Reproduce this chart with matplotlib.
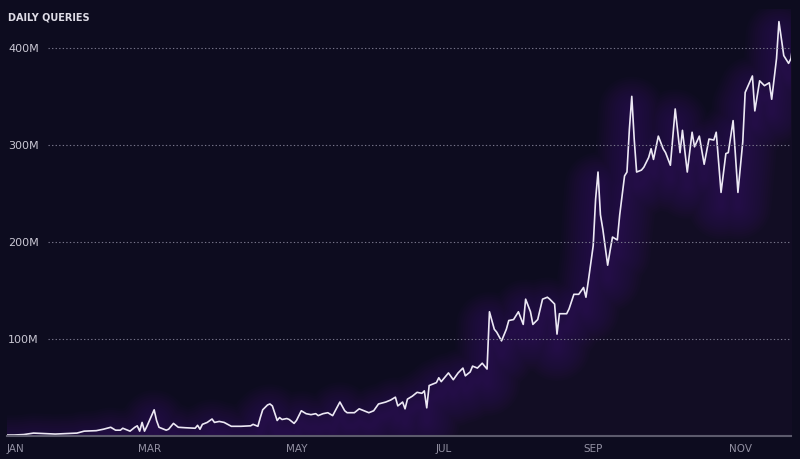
import numpy as np
import matplotlib.pyplot as plt

# dias desde 1 de janeiro e consultas diarias (milhoes)
dias = [0, 3, 7, 11, 16, 20, 25, 29, 32, 37, 40, 43, 45, 47, 48, 51, 53, 54, 55, 56,
        57, 58, 61, 62, 63, 66, 67, 69, 71, 74, 78, 79, 80, 81, 83, 85, 86, 88, 90, 93,
        97, 101, 102, 104, 105, 106, 108, 109, 110, 112, 113, 114, 116, 117, 119, 120, 122, 124, 126, 128,
        129, 131, 133, 135, 138, 140, 141, 144, 146, 148, 150, 152, 154, 157, 159, 161, 162, 164, 165, 166,
        168, 170, 172, 173, 174, 175, 178, 179, 180, 183, 185, 187, 189, 190, 192, 193, 195, 197, 199, 200,
        202, 203, 205, 207, 208, 210, 212, 214, 215, 217, 218, 220, 222, 224, 225, 227, 228, 229, 232, 233,
        235, 237, 239, 240, 241, 243, 244, 245, 246, 247, 249, 250, 251, 253, 254, 256, 257, 258, 259, 260,
        261, 263, 264, 266, 267, 268, 270, 272, 273, 275, 277, 279, 280, 282, 284, 285, 287, 289, 291, 293,
        294, 296, 298, 299, 301, 303, 305, 306, 309, 310, 312, 314, 316, 317, 319, 320, 322, 324, 325, 326]
consultas = [1, 1, 1.5, 3, 2.5, 2, 2.5, 3, 5, 5.5, 7, 9, 6, 6, 8, 5, 9, 10.5, 5, 14,
             5, 10, 27, 16, 9, 6, 7, 13, 9, 8.5, 8, 11, 7, 12, 14, 17.5, 14, 15, 14, 10,
             10, 10.5, 12, 10, 19, 27, 32, 33, 31, 16, 19, 17, 18, 17, 13, 16, 26, 23, 22, 23,
             21, 23, 24, 21, 35, 26, 24, 24, 28, 26, 24, 26, 33, 35, 37, 40, 31, 35, 28, 38,
             41, 45, 44, 46.5, 29, 52, 55, 60, 56, 65, 58, 65, 70, 62, 66, 72, 70, 75, 69, 128,
             110, 107, 98, 110, 119, 120, 128, 115, 141, 128, 115, 120, 141, 143, 141, 136, 105, 126, 126, 131,
             146, 146, 153, 143, 160, 196, 244, 272, 228, 213, 176, 191, 205, 202, 228, 268, 272, 316, 350, 306,
             272, 274, 277, 287, 296, 285, 309, 296, 292, 279, 337, 292, 315, 272, 313, 298, 309, 280, 306, 305,
             313, 251, 291, 292, 325, 251, 303, 354, 371, 335, 366, 361, 364, 347, 389, 427, 392, 384, 389, 407]

meses_dias = [0, 59, 120, 181, 243, 304]
meses_nomes = ["JAN", "MAR", "MAY", "JUL", "SEP", "NOV"]
ticks_y = [100, 200, 300, 400]
rotulos_y = ["100M", "200M", "300M", "400M"]

fundo = "#0d0c1f"
x = np.array(dias)
y = np.array(consultas)

fig = plt.figure(figsize=(8, 4.6), dpi=100, facecolor=fundo)
ax = fig.add_axes([7 / 800, 23 / 460, 784 / 800, 427 / 460])
ax.set_facecolor(fundo)

# brilho roxo por baixo da linha (varias camadas finas para suavizar)
ax.fill_between(x, 0, y, color="#3a1a50", alpha=0.12, lw=0)
for lw in np.linspace(4, 48, 14):
    ax.plot(x, y - 14, color="#6c36b4", lw=lw, alpha=0.022, solid_capstyle="round",
            solid_joinstyle="round")

ax.plot(x, y, color="#ece8f4", lw=1.2, solid_joinstyle="round")

for t, r in zip(ticks_y, rotulos_y):
    ax.axhline(t, xmin=0.052, xmax=1, color="#77758a", lw=0.8, ls=(0, (1.2, 2)))
    ax.text(0.0015, t, r, transform=ax.get_yaxis_transform(), ha="left", va="center",
            color="#c9c7d3", fontsize=8)

fig.text(8 / 800, 1 - 18 / 460, "DAILY QUERIES", ha="left", va="center",
         color="#dedce6", fontsize=7, fontweight="bold")

ax.set_xlim(0, 325)
ax.set_ylim(0, 440)
ax.set_yticks([])
ax.set_xticks(meses_dias, meses_nomes)
ax.tick_params(axis="x", length=0, pad=5, labelsize=7.5, labelcolor="#9290a2")
ax.get_xticklabels()[0].set_horizontalalignment("left")
for s in ["top", "right", "left"]:
    ax.spines[s].set_visible(False)
ax.spines["bottom"].set_color("#5c5a6c")
ax.spines["bottom"].set_linewidth(1.5)

fig.savefig("out.png", dpi=100, facecolor=fundo)
